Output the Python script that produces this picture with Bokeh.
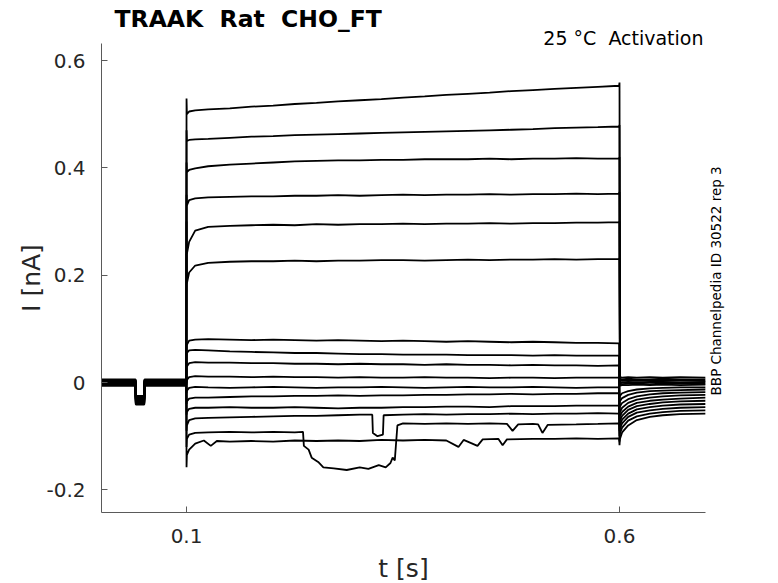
from bokeh.plotting import figure
from bokeh.models import Range1d, FixedTicker, Title, LinearAxis
from bokeh.embed import file_html
from bokeh.resources import INLINE
import math

# ---------------- data ----------------
pre_t = [0.0, 0.0411, 0.0414, 0.0512, 0.0515, 0.0998]
hold_i = [0.004, -0.003, 0.002, -0.005, 0.005, -0.001, 0.003, -0.004,
          0.001, -0.002, 0.006, -0.006, 0.000, 0.004, -0.003, 0.002]
dip_i = [-0.028, -0.036, -0.030, -0.040, -0.026, -0.033, -0.031, -0.038,
         -0.029, -0.034, -0.025, -0.041, -0.032, -0.027, -0.037, -0.030]

on_t = 0.1
spike_on_i = [0.529, 0.47, 0.41, 0.35, 0.30, 0.24, 0.07, 0.05,
              0.03, 0.0, -0.02, -0.04, -0.06, -0.09, -0.12, -0.158]
off_t = 0.6
spike_off_i = [0.559, 0.48, 0.42, 0.355, 0.30, 0.232, -0.03, -0.04,
               -0.05, -0.06, -0.07, -0.08, -0.09, -0.10, -0.11, -0.117]

step_t = [0.1004, 0.103, 0.11, 0.125, 0.15, 0.175, 0.2, 0.225, 0.25, 0.275,
          0.3, 0.325, 0.35, 0.375, 0.4, 0.425, 0.45, 0.475, 0.5, 0.525,
          0.55, 0.575, 0.5995]
t1_i = [0.500, 0.505, 0.507, 0.509, 0.511, 0.514, 0.516, 0.519, 0.521, 0.524,
        0.526, 0.528, 0.531, 0.533, 0.536, 0.538, 0.540, 0.543, 0.545, 0.547,
        0.549, 0.551, 0.553]
t2_i = [0.450, 0.452, 0.453, 0.454, 0.456, 0.458, 0.459, 0.461, 0.462, 0.463,
        0.464, 0.465, 0.466, 0.467, 0.468, 0.469, 0.470, 0.471, 0.472, 0.474,
        0.475, 0.476, 0.477]
t3_i = [0.392, 0.396, 0.399, 0.403, 0.406, 0.408, 0.410, 0.412, 0.413, 0.414,
        0.414, 0.415, 0.415, 0.416, 0.416, 0.416, 0.417, 0.416, 0.417, 0.417,
        0.418, 0.417, 0.417]
t4_i = [0.330, 0.340, 0.343, 0.345, 0.346, 0.347, 0.347, 0.348, 0.348, 0.349,
        0.348, 0.349, 0.350, 0.349, 0.350, 0.350, 0.351, 0.350, 0.351, 0.351,
        0.352, 0.351, 0.352]
t5_i = [0.240, 0.262, 0.283, 0.290, 0.292, 0.293, 0.294, 0.293, 0.295, 0.294,
        0.295, 0.295, 0.296, 0.295, 0.296, 0.296, 0.297, 0.296, 0.297, 0.297,
        0.298, 0.298, 0.299]
t6_i = [0.185, 0.205, 0.218, 0.223, 0.225, 0.226, 0.226, 0.227, 0.226, 0.227,
        0.227, 0.228, 0.228, 0.227, 0.228, 0.229, 0.228, 0.229, 0.229, 0.230,
        0.229, 0.230, 0.230]
l1_i = [0.070, 0.078, 0.080, 0.081, 0.080, 0.079, 0.080, 0.079, 0.078, 0.079,
        0.078, 0.077, 0.078, 0.077, 0.076, 0.077, 0.076, 0.075, 0.076, 0.075,
        0.074, 0.074, 0.073]
l2_i = [0.055, 0.060, 0.061, 0.060, 0.058, 0.057, 0.056, 0.055, 0.055, 0.054,
        0.053, 0.053, 0.052, 0.052, 0.052, 0.051, 0.051, 0.051, 0.050, 0.051,
        0.050, 0.050, 0.050]
l3_i = [0.030, 0.036, 0.038, 0.037, 0.037, 0.036, 0.036, 0.035, 0.035, 0.034,
        0.035, 0.034, 0.034, 0.033, 0.034, 0.033, 0.033, 0.032, 0.033, 0.032,
        0.032, 0.031, 0.032]
l4_i = [0.005, 0.010, 0.012, 0.011, 0.011, 0.010, 0.011, 0.010, 0.010, 0.009,
        0.010, 0.009, 0.009, 0.010, 0.009, 0.009, 0.008, 0.009, 0.009, 0.008,
        0.009, 0.009, 0.009]
l5_i = [-0.015, -0.010, -0.008, -0.009, -0.010, -0.009, -0.008, -0.009, -0.010, -0.009,
        -0.009, -0.008, -0.009, -0.010, -0.009, -0.008, -0.009, -0.009, -0.008, -0.009,
        -0.010, -0.009, -0.009]
l6_i = [-0.035, -0.030, -0.028, -0.028, -0.027, -0.026, -0.026, -0.025, -0.025, -0.024,
        -0.025, -0.024, -0.024, -0.023, -0.023, -0.022, -0.022, -0.021, -0.022, -0.021,
        -0.021, -0.020, -0.020]
l7_i = [-0.055, -0.049, -0.047, -0.047, -0.046, -0.047, -0.047, -0.046, -0.047, -0.048,
        -0.047, -0.047, -0.046, -0.046, -0.045, -0.045, -0.046, -0.044, -0.044, -0.044,
        -0.043, -0.043, -0.043]

l8_t = [0.1004, 0.103, 0.11, 0.125, 0.15, 0.175, 0.2, 0.225, 0.25, 0.275, 0.3,
        0.3145, 0.3152, 0.3205, 0.3268, 0.3276, 0.35, 0.375, 0.4, 0.425, 0.45,
        0.475, 0.5, 0.525, 0.55, 0.575, 0.5995]
l8_i = [-0.080, -0.070, -0.067, -0.066, -0.065, -0.064, -0.063, -0.062, -0.062, -0.061, -0.060,
        -0.060, -0.094, -0.100, -0.097, -0.061, -0.060, -0.059, -0.060, -0.059, -0.059,
        -0.058, -0.059, -0.058, -0.058, -0.057, -0.058]

l9_t = [0.1004, 0.103, 0.11, 0.125, 0.15, 0.175, 0.2, 0.225, 0.2345, 0.2355,
        0.241, 0.2445, 0.252, 0.258, 0.27, 0.285, 0.3, 0.31, 0.322, 0.33,
        0.3355, 0.338, 0.3405, 0.3435, 0.35, 0.375, 0.4, 0.425, 0.45, 0.47,
        0.4765, 0.483, 0.5, 0.506, 0.511, 0.517, 0.55, 0.575, 0.5995]
l9_i = [-0.105, -0.097, -0.094, -0.093, -0.092, -0.093, -0.092, -0.093, -0.092, -0.118,
        -0.125, -0.140, -0.148, -0.158, -0.160, -0.163, -0.158, -0.161, -0.154, -0.158,
        -0.150, -0.140, -0.145, -0.080, -0.076, -0.077, -0.076, -0.077, -0.076, -0.077,
        -0.090, -0.078, -0.077, -0.078, -0.094, -0.079, -0.078, -0.077, -0.076]

l10_t = [0.1004, 0.103, 0.11, 0.12, 0.128, 0.135, 0.15, 0.175, 0.2, 0.225,
         0.25, 0.275, 0.3, 0.325, 0.35, 0.375, 0.4, 0.414, 0.42, 0.436,
         0.442, 0.46, 0.465, 0.47, 0.5, 0.525, 0.55, 0.575, 0.5995]
l10_i = [-0.135, -0.125, -0.114, -0.108, -0.118, -0.109, -0.110, -0.109, -0.110, -0.108,
         -0.109, -0.108, -0.109, -0.107, -0.108, -0.107, -0.108, -0.120, -0.107, -0.118,
         -0.106, -0.105, -0.117, -0.106, -0.105, -0.105, -0.104, -0.105, -0.104]

tail_t = [0.6005, 0.603, 0.61, 0.62, 0.635, 0.65, 0.67, 0.6995]
t1_tail = [0.010, 0.009, 0.010, 0.009, 0.010, 0.009, 0.010, 0.009]
t2_tail = [0.007, 0.006, 0.007, 0.006, 0.006, 0.007, 0.006, 0.006]
t3_tail = [0.004, 0.003, 0.004, 0.003, 0.004, 0.003, 0.004, 0.003]
t4_tail = [0.001, 0.000, 0.001, 0.000, 0.001, 0.001, 0.000, 0.001]
t5_tail = [-0.002, -0.003, -0.002, -0.002, -0.003, -0.002, -0.002, -0.002]
t6_tail = [-0.006, -0.005, -0.005, -0.004, -0.005, -0.004, -0.005, -0.004]
l1_tail = [-0.025, -0.020, -0.016, -0.013, -0.011, -0.010, -0.009, -0.009]
l2_tail = [-0.035, -0.029, -0.023, -0.019, -0.016, -0.015, -0.014, -0.013]
l3_tail = [-0.045, -0.038, -0.031, -0.026, -0.022, -0.020, -0.019, -0.018]
l4_tail = [-0.055, -0.047, -0.038, -0.032, -0.028, -0.026, -0.024, -0.023]
l5_tail = [-0.063, -0.055, -0.045, -0.038, -0.034, -0.032, -0.030, -0.028]
l6_tail = [-0.071, -0.062, -0.051, -0.044, -0.040, -0.037, -0.035, -0.034]
l7_tail = [-0.079, -0.069, -0.058, -0.050, -0.046, -0.043, -0.041, -0.040]
l8_tail = [-0.087, -0.076, -0.064, -0.056, -0.052, -0.049, -0.047, -0.046]
l9_tail = [-0.095, -0.084, -0.071, -0.063, -0.058, -0.055, -0.053, -0.052]
l10_tail = [-0.105, -0.093, -0.080, -0.070, -0.064, -0.061, -0.059, -0.058]

x_ticks = [0.1, 0.6]
y_ticks = [-0.2, 0, 0.2, 0.4, 0.6]
y_tick_labels = ["-0.2", "0", "0.2", "0.4", "0.6"]
x_tick_labels = ["0.1", "0.6"]

NB = " \u00a0"  # a double space that the SVG renderer will not collapse
title_text = "TRAAK" + NB + "Rat" + NB + "CHO_FT"
cond_text = "25 °C" + NB + "Activation"
side_text = "BBP Channelpedia ID 30522 rep 3"
side_text_start = -0.024   # I level where the rotated side note begins

# ---------------- sweeps ----------------
steps = [(step_t, t1_i), (step_t, t2_i), (step_t, t3_i), (step_t, t4_i),
         (step_t, t5_i), (step_t, t6_i), (step_t, l1_i), (step_t, l2_i),
         (step_t, l3_i), (step_t, l4_i), (step_t, l5_i), (step_t, l6_i),
         (step_t, l7_i), (l8_t, l8_i), (l9_t, l9_i), (l10_t, l10_i)]
tails = [t1_tail, t2_tail, t3_tail, t4_tail, t5_tail, t6_tail, l1_tail, l2_tail,
         l3_tail, l4_tail, l5_tail, l6_tail, l7_tail, l8_tail, l9_tail, l10_tail]

FONT = "DejaVu Sans"
TXT = "#262626"
AX = "#5a5a5a"

p = figure(frame_width=604, frame_height=469,
           x_range=Range1d(0.0018, 0.6993), y_range=Range1d(-0.2422, 0.6317),
           output_backend="svg", toolbar_location=None, tools="",
           min_border_left=101, min_border_right=65, min_border_top=43,
           min_border_bottom=63)
p.outline_line_color = None
p.xgrid.visible = False
p.ygrid.visible = False
p.background_fill_color = "white"
p.border_fill_color = "white"

# condition text (nearest to the frame), then the main title above it
p.add_layout(Title(text=cond_text, align="right", text_font=FONT,
                   text_font_size="19px", text_font_style="normal",
                   text_color="black", standoff=-11, offset=2), "above")

p.title.text = title_text
p.title.text_font = FONT
p.title.text_font_size = "23.5px"
p.title.text_font_style = "bold"
p.title.text_color = "black"
p.title.align = "left"
p.title.offset = 13
p.title.standoff = -5

for k, ((st, si), tl) in enumerate(zip(steps, tails)):
    h = hold_i[k]
    d = dip_i[k]
    xs = pre_t + [on_t] + st + [off_t] + tail_t
    ys = [h, h, d, d, h, h] + [spike_on_i[k]] + si + [spike_off_i[k]] + tl
    p.line(xs, ys, line_color="black", line_width=1.8)

for ax in (p.xaxis[0], p.yaxis[0]):
    ax.axis_line_color = AX
    ax.axis_line_width = 1
    ax.major_tick_line_color = AX
    ax.major_tick_in = 6
    ax.major_tick_out = 0
    ax.minor_tick_line_color = None
    ax.major_label_text_font = FONT
    ax.major_label_text_font_size = "20px"
    ax.major_label_text_color = TXT
    ax.axis_label_text_font = FONT
    ax.axis_label_text_font_size = "25px"
    ax.axis_label_text_font_style = "normal"
    ax.axis_label_text_color = TXT

p.xaxis.ticker = FixedTicker(ticks=x_ticks)
p.yaxis.ticker = FixedTicker(ticks=y_ticks)
p.xaxis.major_label_overrides = {v: s for v, s in zip(x_ticks, x_tick_labels)}
p.yaxis.major_label_overrides = {v: s for v, s in zip(y_ticks, y_tick_labels)}
p.xaxis.axis_label = "t [s]"
p.yaxis.axis_label = "I [nA]"
p.xaxis.major_label_standoff = 16
p.yaxis.major_label_standoff = 16
p.xaxis.axis_label_standoff = 8
p.yaxis.axis_label_standoff = -3

# side note: the single (rotated) tick label of a bare axis on the right
side = LinearAxis(ticker=FixedTicker(ticks=[side_text_start]),
                  major_label_overrides={side_text_start: side_text},
                  major_label_orientation=math.pi / 2,
                  axis_line_color=None, major_tick_line_color=None,
                  major_tick_in=0, major_tick_out=0,
                  minor_tick_line_color=None, minor_tick_out=0,
                  major_label_text_font=FONT, major_label_text_font_size="13.5px",
                  major_label_text_color="black", major_label_standoff=11)
p.add_layout(side, "right")

open("out.html", "w").write(file_html(p, INLINE))
